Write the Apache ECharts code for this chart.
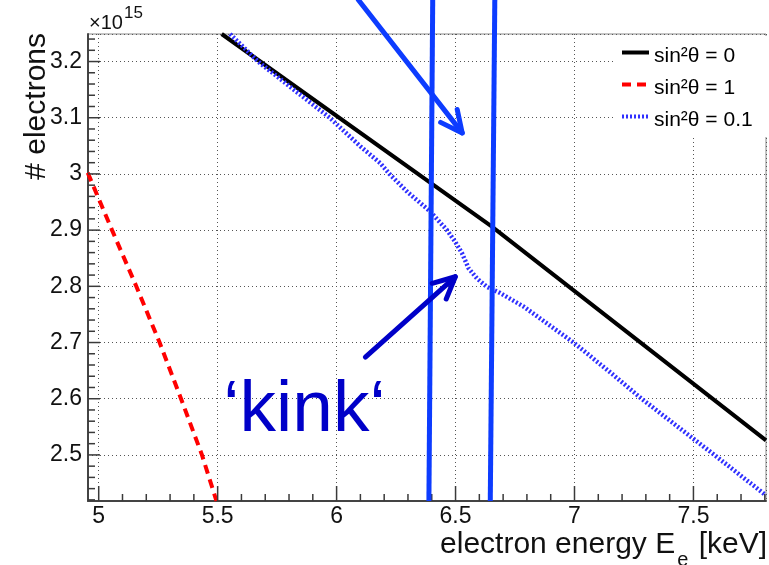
<!DOCTYPE html>
<html><head><meta charset="utf-8">
<script src="https://cdn.jsdelivr.net/npm/echarts@6/dist/echarts.min.js"></script>
<style>html,body{margin:0;padding:0;background:#fff}#c{width:769px;height:565px}</style>
</head><body><div id="c"></div>
<script>
// ---- data (electron counts in units of 1e15, energy in keV) ----
const seriesNames = ['sin\u00b2\u03b8 = 0', 'sin\u00b2\u03b8 = 1', 'sin\u00b2\u03b8 = 0.1'];
const energyS0 = [5.517, 6.65, 7.805];
const countsS0 = [3.249, 2.907, 2.526];
const energyS1 = [4.954, 5.056, 5.158, 5.256, 5.346, 5.434, 5.495];
const countsS1 = [3.002, 2.9, 2.8, 2.7, 2.6, 2.5, 2.418];
const energyS01 = [5.552, 5.67, 5.82, 5.971, 6.1, 6.184, 6.222, 6.3, 6.394, 6.464, 6.499, 6.527, 6.555, 6.590, 6.632, 6.688, 6.786, 6.996, 7.15, 7.282, 7.45, 7.588, 7.805];
const countsS01 = [3.249, 3.2, 3.15, 3.1, 3.049, 3.019, 3.0, 2.967, 2.933, 2.9, 2.879, 2.859, 2.832, 2.814, 2.799, 2.788, 2.764, 2.7, 2.647, 2.6, 2.545, 2.5, 2.428];
const xRange = [4.955, 7.805];
const yRange = [2.418, 3.249];
// tick positions
const xMajorTicks = [5, 5.5, 6, 6.5, 7, 7.5];
const yMajorTicks = [2.5, 2.6, 2.7, 2.8, 2.9, 3.0, 3.1, 3.2];
// annotation geometry (data coordinates)
const markerTopX = [6.404, 6.665];
const markerBottomX = [6.388, 6.646];
const markerTopY = 3.3095;
const arrow1 = [[6.091, 3.31], [6.528, 3.073]];
const arrow2 = [[6.121, 2.674], [6.499, 2.817]];
const kinkLabelPos = [5.524, 2.578];
const kinkLabel = '\u2018kink\u2018';

const FONT = '"Liberation Sans", Arial, Helvetica, sans-serif';
const pair = (xs, ys) => xs.map((x, i) => [x, ys[i]]);

const chart = echarts.init(document.getElementById('c'), null, {renderer: 'canvas'});
function makeAxis(extra) {
  return Object.assign({
    type: 'value',
    axisLine: {show: true, onZero: false, lineStyle: {color: '#444', width: 2}},
    axisTick: {show: false},
    minorTick: {show: false},
    splitLine: {show: true, lineStyle: {color: '#555', type: [1, 3], width: 1}},
    minorSplitLine: {show: false}
  }, extra);
}
chart.setOption({
  animation: false,
  backgroundColor: '#fff',
  grid: {left: 88, right: 3, top: 34, bottom: 64, show: true, borderColor: '#888', borderWidth: 1},
  xAxis: makeAxis({
    min: xRange[0], max: xRange[1], splitNumber: 6,
    axisLabel: {showMinLabel: false, showMaxLabel: false, fontSize: 23, color: '#111', margin: 4, fontFamily: FONT}
  }),
  yAxis: makeAxis({
    min: yRange[0], max: yRange[1], splitNumber: 8,
    axisLabel: {showMinLabel: false, showMaxLabel: false, fontSize: 23, color: '#111', margin: 6, fontFamily: FONT}
  }),
  legend: {
    orient: 'vertical', left: 615, top: 36, padding: [2, 16, 6, 5],
    backgroundColor: '#fff', itemWidth: 27, itemHeight: 14, itemGap: 3,
    data: seriesNames,
    itemStyle: {opacity: 0},
    lineStyle: {width: 4},
    formatter: n => '{a|' + n + '}',
    textStyle: {fontSize: 21, color: '#000', fontFamily: FONT,
      rich: {a: {fontSize: 21, color: '#000', fontFamily: FONT, padding: [8, 0, 0, 0], lineHeight: 22}}}
  },
  series: [
    {name: seriesNames[0], type: 'line', data: pair(energyS0, countsS0), symbol: 'none', clip: true,
      lineStyle: {color: '#000', width: 4}, itemStyle: {color: '#000'}, z: 3},
    {name: seriesNames[1], type: 'line', data: pair(energyS1, countsS1), symbol: 'none', clip: true,
      lineStyle: {color: '#ff0000', width: 4, type: [9, 6]}, itemStyle: {color: '#ff0000'}, z: 3},
    {name: seriesNames[2], type: 'line', data: pair(energyS01, countsS01), symbol: 'none', clip: true,
      lineStyle: {color: '#3030ff', width: 4.5, type: [2, 2]}, itemStyle: {color: '#3030ff'}, z: 3}
  ]
});

const px = p => chart.convertToPixel({gridIndex: 0}, p);
const g = [];
// axis ticks (major + 5 minor subdivisions), inside the frame
const tickCol = '#3a3a3a';
function addTicks(majors, range, isX, majorLen) {
  const step = (majors[1] - majors[0]) / 5;
  const start = majors[0] - Math.floor((majors[0] - range[0]) / step) * step;
  for (let k = 0; ; k++) {
    const v = Math.round((start + k * step) * 1000) / 1000;
    if (v > range[1] + 1e-9) break;
    if (v < range[0] + 1e-6 || v > range[1] - 1e-6) continue;
    const isMajor = majors.some(m => Math.abs(m - v) < 1e-6);
    const len = isMajor ? majorLen : 7;
    if (isX) {
      const p = px([v, yRange[0]]);
      g.push({type: 'line', z: 60, shape: {x1: p[0], y1: p[1], x2: p[0], y2: p[1] - len},
        style: {stroke: tickCol, lineWidth: 1.5}});
    } else {
      const p = px([xRange[0], v]);
      g.push({type: 'line', z: 60, shape: {x1: p[0], y1: p[1], x2: p[0] + len, y2: p[1]},
        style: {stroke: tickCol, lineWidth: 1.5}});
    }
  }
}
addTicks(xMajorTicks, xRange, true, 15);
addTicks(yMajorTicks, yRange, false, 12);

function head(tip, tail, len, deg) {
  const a = Math.atan2(tail[1] - tip[1], tail[0] - tip[0]);
  const d = deg * Math.PI / 180;
  return [[tip[0] + len * Math.cos(a + d), tip[1] + len * Math.sin(a + d)], tip,
          [tip[0] + len * Math.cos(a - d), tip[1] + len * Math.sin(a - d)]];
}
const bright = '#0d3cff', dark = '#0000c8';
markerTopX.forEach((tx, i) => {
  const t = px([tx, markerTopY]), b = px([markerBottomX[i], yRange[0]]);
  g.push({type: 'line', z: 100, shape: {x1: t[0], y1: t[1], x2: b[0], y2: b[1]},
    style: {stroke: bright, lineWidth: 5}});
});
[[arrow1, bright], [arrow2, dark]].forEach(([ar, col]) => {
  const tail = px(ar[0]), tip = px(ar[1]);
  g.push({type: 'polyline', z: 101, shape: {points: [tail, tip]},
    style: {stroke: col, lineWidth: 5, fill: null, lineCap: 'round'}});
  g.push({type: 'polyline', z: 101, shape: {points: head(tip, tail, 24, 26)},
    style: {stroke: col, lineWidth: 5, fill: null, lineCap: 'round', lineJoin: 'round'}});
});
const kp = px(kinkLabelPos);
g.push({type: 'text', z: 102, x: kp[0], y: kp[1],
  style: {text: kinkLabel, fontSize: 73, fontFamily: FONT, fill: dark, align: 'left', verticalAlign: 'middle'}});
// axis titles
g.push({type: 'text', z: 50, x: 36.6, y: 33, rotation: Math.PI / 2,
  style: {text: '# electrons', fontSize: 30, fontFamily: FONT, fill: '#111', align: 'right', verticalAlign: 'middle'}});
g.push({type: 'text', z: 50, x: 767, y: 545,
  style: {text: '{n|electron energy E}{s|e}{n| [keV]}', align: 'right', verticalAlign: 'middle', fill: '#111',
    fontFamily: FONT, fontSize: 30,
    rich: {n: {fontSize: 30, fontFamily: FONT, fill: '#111'},
           s: {fontSize: 20, fontFamily: FONT, fill: '#111', padding: [30, 2, 0, 2]}}}});
g.push({type: 'text', z: 50, x: 89, y: 23.5,
  style: {text: '\u00d710', fontSize: 20, fontFamily: FONT, fill: '#111', align: 'left', verticalAlign: 'middle'}});
g.push({type: 'text', z: 50, x: 124, y: 13.5,
  style: {text: '15', fontSize: 17, fontFamily: FONT, fill: '#111', align: 'left', verticalAlign: 'middle'}});
chart.setOption({graphic: g});
</script></body></html>
